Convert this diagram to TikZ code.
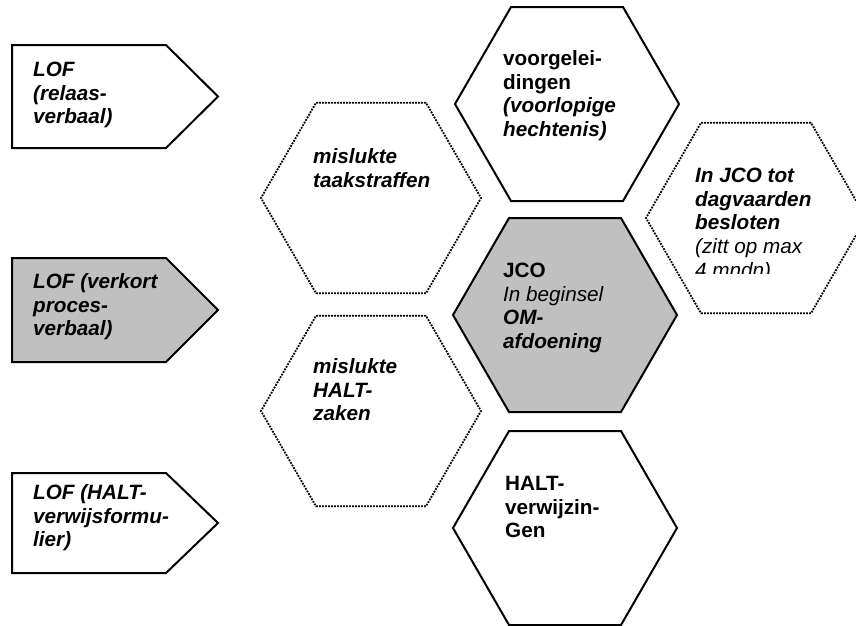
\documentclass[tikz,border=0pt]{standalone}
\usepackage{fontspec}
\setmainfont{Liberation Sans}
\usetikzlibrary{shapes.geometric}
\definecolor{hexgrey}{RGB}{192,192,192}
\newcommand{\fl}{\rule{0pt}{17pt}}
\newcommand{\bi}[1]{\textbf{\textit{#1}}}
\begin{document}
\begin{tikzpicture}[x=1pt,y=-1pt,
  hexs/.style={regular polygon, regular polygon sides=6, minimum size=224pt, inner sep=0pt, outer sep=0pt, draw=black, line width=2pt},
  hexd/.style={regular polygon, regular polygon sides=6, minimum size=220pt, inner sep=0pt, outer sep=0pt, draw=black, line width=1.8pt, dash pattern=on 1.8pt off 1.2pt},
  pent/.style={draw=black, line width=2pt, line join=miter},
  txt/.style={anchor=north west, inner sep=0pt, align=left, font=\fontsize{20.7pt}{23.8pt}\selectfont},
  txtbi/.style={txt, font=\fontsize{20.7pt}{23.8pt}\selectfont\bfseries\itshape},
  txtb/.style={txt, font=\fontsize{20.7pt}{23.8pt}\selectfont\bfseries}]
\useasboundingbox (0,0) rectangle (856,625);

% pentagons
\draw[pent] (12,45) -- (166,45) -- (218,96.5) -- (166,148) -- (12,148) -- cycle;
\draw[pent, fill=hexgrey] (12,258) -- (166,258) -- (218,310) -- (166,362) -- (12,362) -- cycle;
\draw[pent] (12,473) -- (166,473) -- (218,523) -- (166,573) -- (12,573) -- cycle;
\node[txtbi] (p1) at (33,59) {\fl LOF\\(relaas-\\verbaal)};
\node[txtbi] (p2) at (33,271) {\fl LOF (verkort\\proces-\\verbaal)};
\node[txtbi] (p3) at (33,482) {\fl LOF (HALT-\\verwijsformu-\\lier)};

% hexagons
\node[hexs] (hvoor) at (567,104) {};
\node[hexs, fill=hexgrey] (hjco) at (565,315) {};
\node[hexs] (hhalt) at (565,528) {};
\node[hexd] (htaak) at (371,198) {};
\node[hexd] (hmhalt) at (371,411) {};
\node[hexd] (hdag) at (756,218) {};

\node[txt] (tvoor) at (503,48) {\textbf{\fl voorgelei-}\\\textbf{dingen}\\\bi{(voorlopige}\\\bi{hechtenis)}};
\node[txtbi] (ttaak) at (313,146) {\fl mislukte\\taakstraffen};
\begin{scope}
\clip (640,100) rectangle (856,273);
\node[txt] (tdag) at (695,165) {\bi{\fl In JCO tot}\\\bi{dagvaarden}\\\bi{besloten}\\\textit{(zitt op max}\\\textit{4 mndn)}};
\end{scope}
\node[txt] (tjco) at (503,260) {\textbf{\fl JCO}\\\textit{In beginsel}\\\bi{OM-}\\\bi{afdoening}};
\node[txtbi] (tmhalt) at (313,356) {\fl mislukte\\HALT-\\zaken};
\node[txtb] (thalt) at (505,473) {\fl HALT-\\verwijzin-\\Gen};
\end{tikzpicture}
\end{document}
